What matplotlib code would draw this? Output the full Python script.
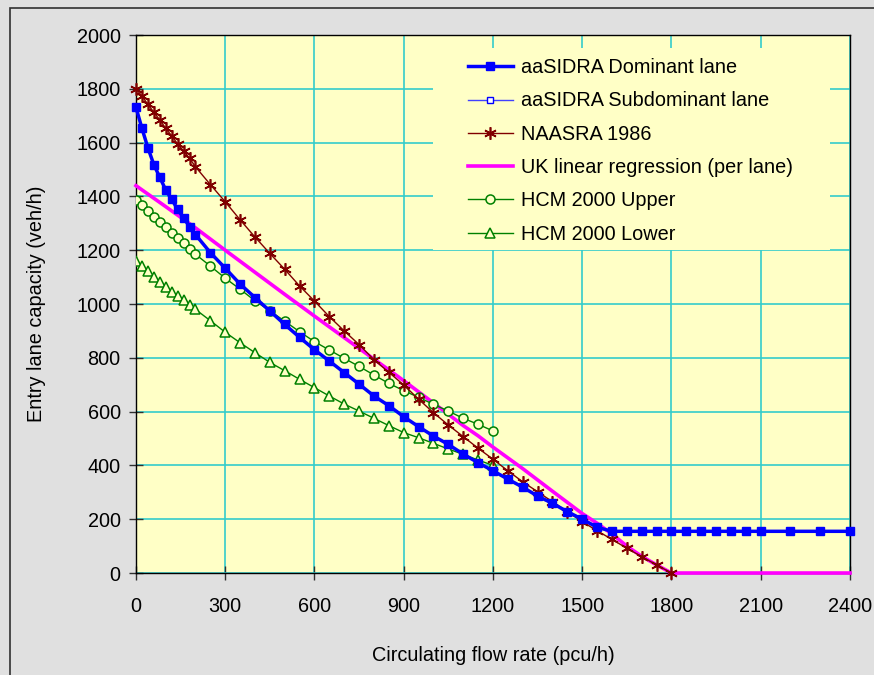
import matplotlib
matplotlib.use("Agg")
import matplotlib.pyplot as plt
from matplotlib.patches import Rectangle

plt.rcParams['font.family'] = ['Liberation Sans', 'DejaVu Sans']

# --- data ---
sidra_x = [0, 20, 40, 60, 80, 100, 120, 140, 160, 180, 200,
           250, 300, 350, 400, 450, 500, 550, 600, 650, 700, 750,
           800, 850, 900, 950, 1000, 1050, 1100, 1150, 1200, 1250,
           1300, 1350, 1400, 1450, 1500, 1550, 1600, 1650, 1700, 1750,
           1800, 1850, 1900, 1950, 2000, 2050, 2100, 2200, 2300, 2400]
sidra_dom = [1731, 1653, 1581, 1518, 1471, 1424, 1389, 1352, 1320, 1288, 1258,
             1191, 1133, 1074, 1024, 974, 924, 876, 830, 788, 745, 702,
             658, 622, 581, 544, 509, 478, 442, 410, 380, 349,
             319, 286, 259, 228, 200, 170, 155, 155, 155, 155,
             155, 155, 155, 155, 155, 155, 155, 155, 155, 155]
sidra_sub = sidra_dom  # coincides with the dominant lane curve

naasra_x = [0, 20, 40, 60, 80, 100, 120, 140, 160, 180, 200,
            250, 300, 350, 400, 450, 500, 550, 600, 650, 700, 750,
            800, 850, 900, 950, 1000, 1050, 1100, 1150, 1200, 1250,
            1300, 1350, 1400, 1450, 1500, 1550, 1600, 1650, 1700, 1750, 1800]
naasra_y = [1800, 1773, 1742, 1713, 1684, 1653, 1625, 1595, 1569, 1542, 1510,
            1444, 1380, 1313, 1249, 1188, 1129, 1067, 1011, 953, 900, 849,
            793, 746, 699, 646, 596, 550, 507, 464, 423, 380,
            339, 302, 265, 228, 191, 157, 125, 92, 61, 30, 0]

uk_x = [0, 100, 200, 300, 400, 500, 600, 700, 800, 900, 1000, 1100, 1150,
        1200, 1300, 1400, 1500, 1550, 1600, 1650, 1700, 1750, 1800, 2400]
uk_y = [1440, 1362, 1283, 1200, 1118, 1036, 955, 875, 795, 715, 632, 548, 510,
        468, 388, 304, 221, 185, 145, 100, 62, 30, 0, 0]

hcm_x = [0, 20, 40, 60, 80, 100, 120, 140, 160, 180, 200,
         250, 300, 350, 400, 450, 500, 550, 600, 650, 700, 750,
         800, 850, 900, 950, 1000, 1050, 1100, 1150, 1200]
hcm_upper = [1387, 1367, 1347, 1325, 1306, 1285, 1265, 1244, 1226, 1206, 1185,
             1141, 1096, 1055, 1012, 975, 936, 897, 860, 829, 798, 768,
             736, 705, 678, 653, 627, 602, 575, 553, 528]
hcm_lower = [1160, 1140, 1123, 1102, 1083, 1064, 1046, 1030, 1014, 996, 980,
             938, 895, 856, 819, 783, 752, 720, 689, 658, 628, 602,
             575, 548, 522, 503, 482, 461, 441, 420, 400]

x_ticks = list(range(0, 2401, 300))
y_ticks = list(range(0, 2001, 200))

bg = '#e0e0e0'
plot_bg = '#ffffc6'
grid_col = '#33cccc'
fs = 14.3

fig = plt.figure(figsize=(8.74, 6.75), dpi=100, facecolor=bg)
ax = fig.add_axes([0.1556, 0.1511, 0.8169, 0.797])
ax.set_facecolor(plot_bg)

# outer chart border
fig.patches.append(Rectangle((0.0114, -0.1), 1.2, 1.088, transform=fig.transFigure,
                             fill=False, edgecolor='#303030', lw=1.2))

ax.set_axisbelow(True)
ax.grid(True, color=grid_col, lw=1.2)

# legend background hides the grid behind it
ax.add_patch(Rectangle((0.416, 0.600), 0.556, 0.376, transform=ax.transAxes,
                       facecolor=plot_bg, edgecolor='none', zorder=1))

ax.plot(sidra_x, sidra_sub, color='#4040ff', lw=1, marker='s', ms=5,
        mfc='white', mec='#0000ff', label='aaSIDRA Subdominant lane', zorder=2,
        clip_on=False)
ax.plot(sidra_x, sidra_dom, color='#0000ff', lw=2.5, marker='s', ms=6.3,
        label='aaSIDRA Dominant lane', zorder=5, clip_on=False)
ax.plot(naasra_x, naasra_y, color='#800000', lw=1, marker=(6, 2, 0), ms=9,
        mew=1.2, label='NAASRA 1986', zorder=4, clip_on=False)
ax.plot(uk_x, uk_y, color='#ff00ff', lw=2.6, label='UK linear regression (per lane)',
        zorder=3, clip_on=False)
ax.plot(hcm_x, hcm_upper, color='#008000', lw=1, marker='o', ms=6.5,
        mfc=plot_bg, mec='#008000', mew=1.1, label='HCM 2000 Upper', zorder=3)
ax.plot(hcm_x, hcm_lower, color='#008000', lw=1, marker='^', ms=7,
        mfc=plot_bg, mec='#008000', mew=1.1, label='HCM 2000 Lower', zorder=3)

ax.set_xlim(0, 2400)
ax.set_ylim(0, 2000)
ax.set_xticks(x_ticks)
ax.set_yticks(y_ticks)
ax.tick_params(axis='both', direction='inout', length=10, width=1, color='#303030',
               labelsize=fs)
ax.tick_params(axis='x', pad=12)
ax.tick_params(axis='y', pad=6)
for s in ax.spines.values():
    s.set_color('black')
    s.set_linewidth(1)

ax.set_xlabel('Circulating flow rate (pcu/h)', fontsize=fs, labelpad=22)
ax.set_ylabel('Entry lane capacity (veh/h)', fontsize=fs, labelpad=22)

h, l = ax.get_legend_handles_labels()
order = [1, 0, 2, 3, 4, 5]
ax.legend([h[i] for i in order], [l[i] for i in order], loc='upper left',
          bbox_to_anchor=(0.465, 0.957), frameon=False, fontsize=fs,
          borderpad=0, borderaxespad=0, handlelength=2.25, handletextpad=0.4,
          labelspacing=0.72)

fig.savefig('out.png', dpi=100, facecolor=bg)
